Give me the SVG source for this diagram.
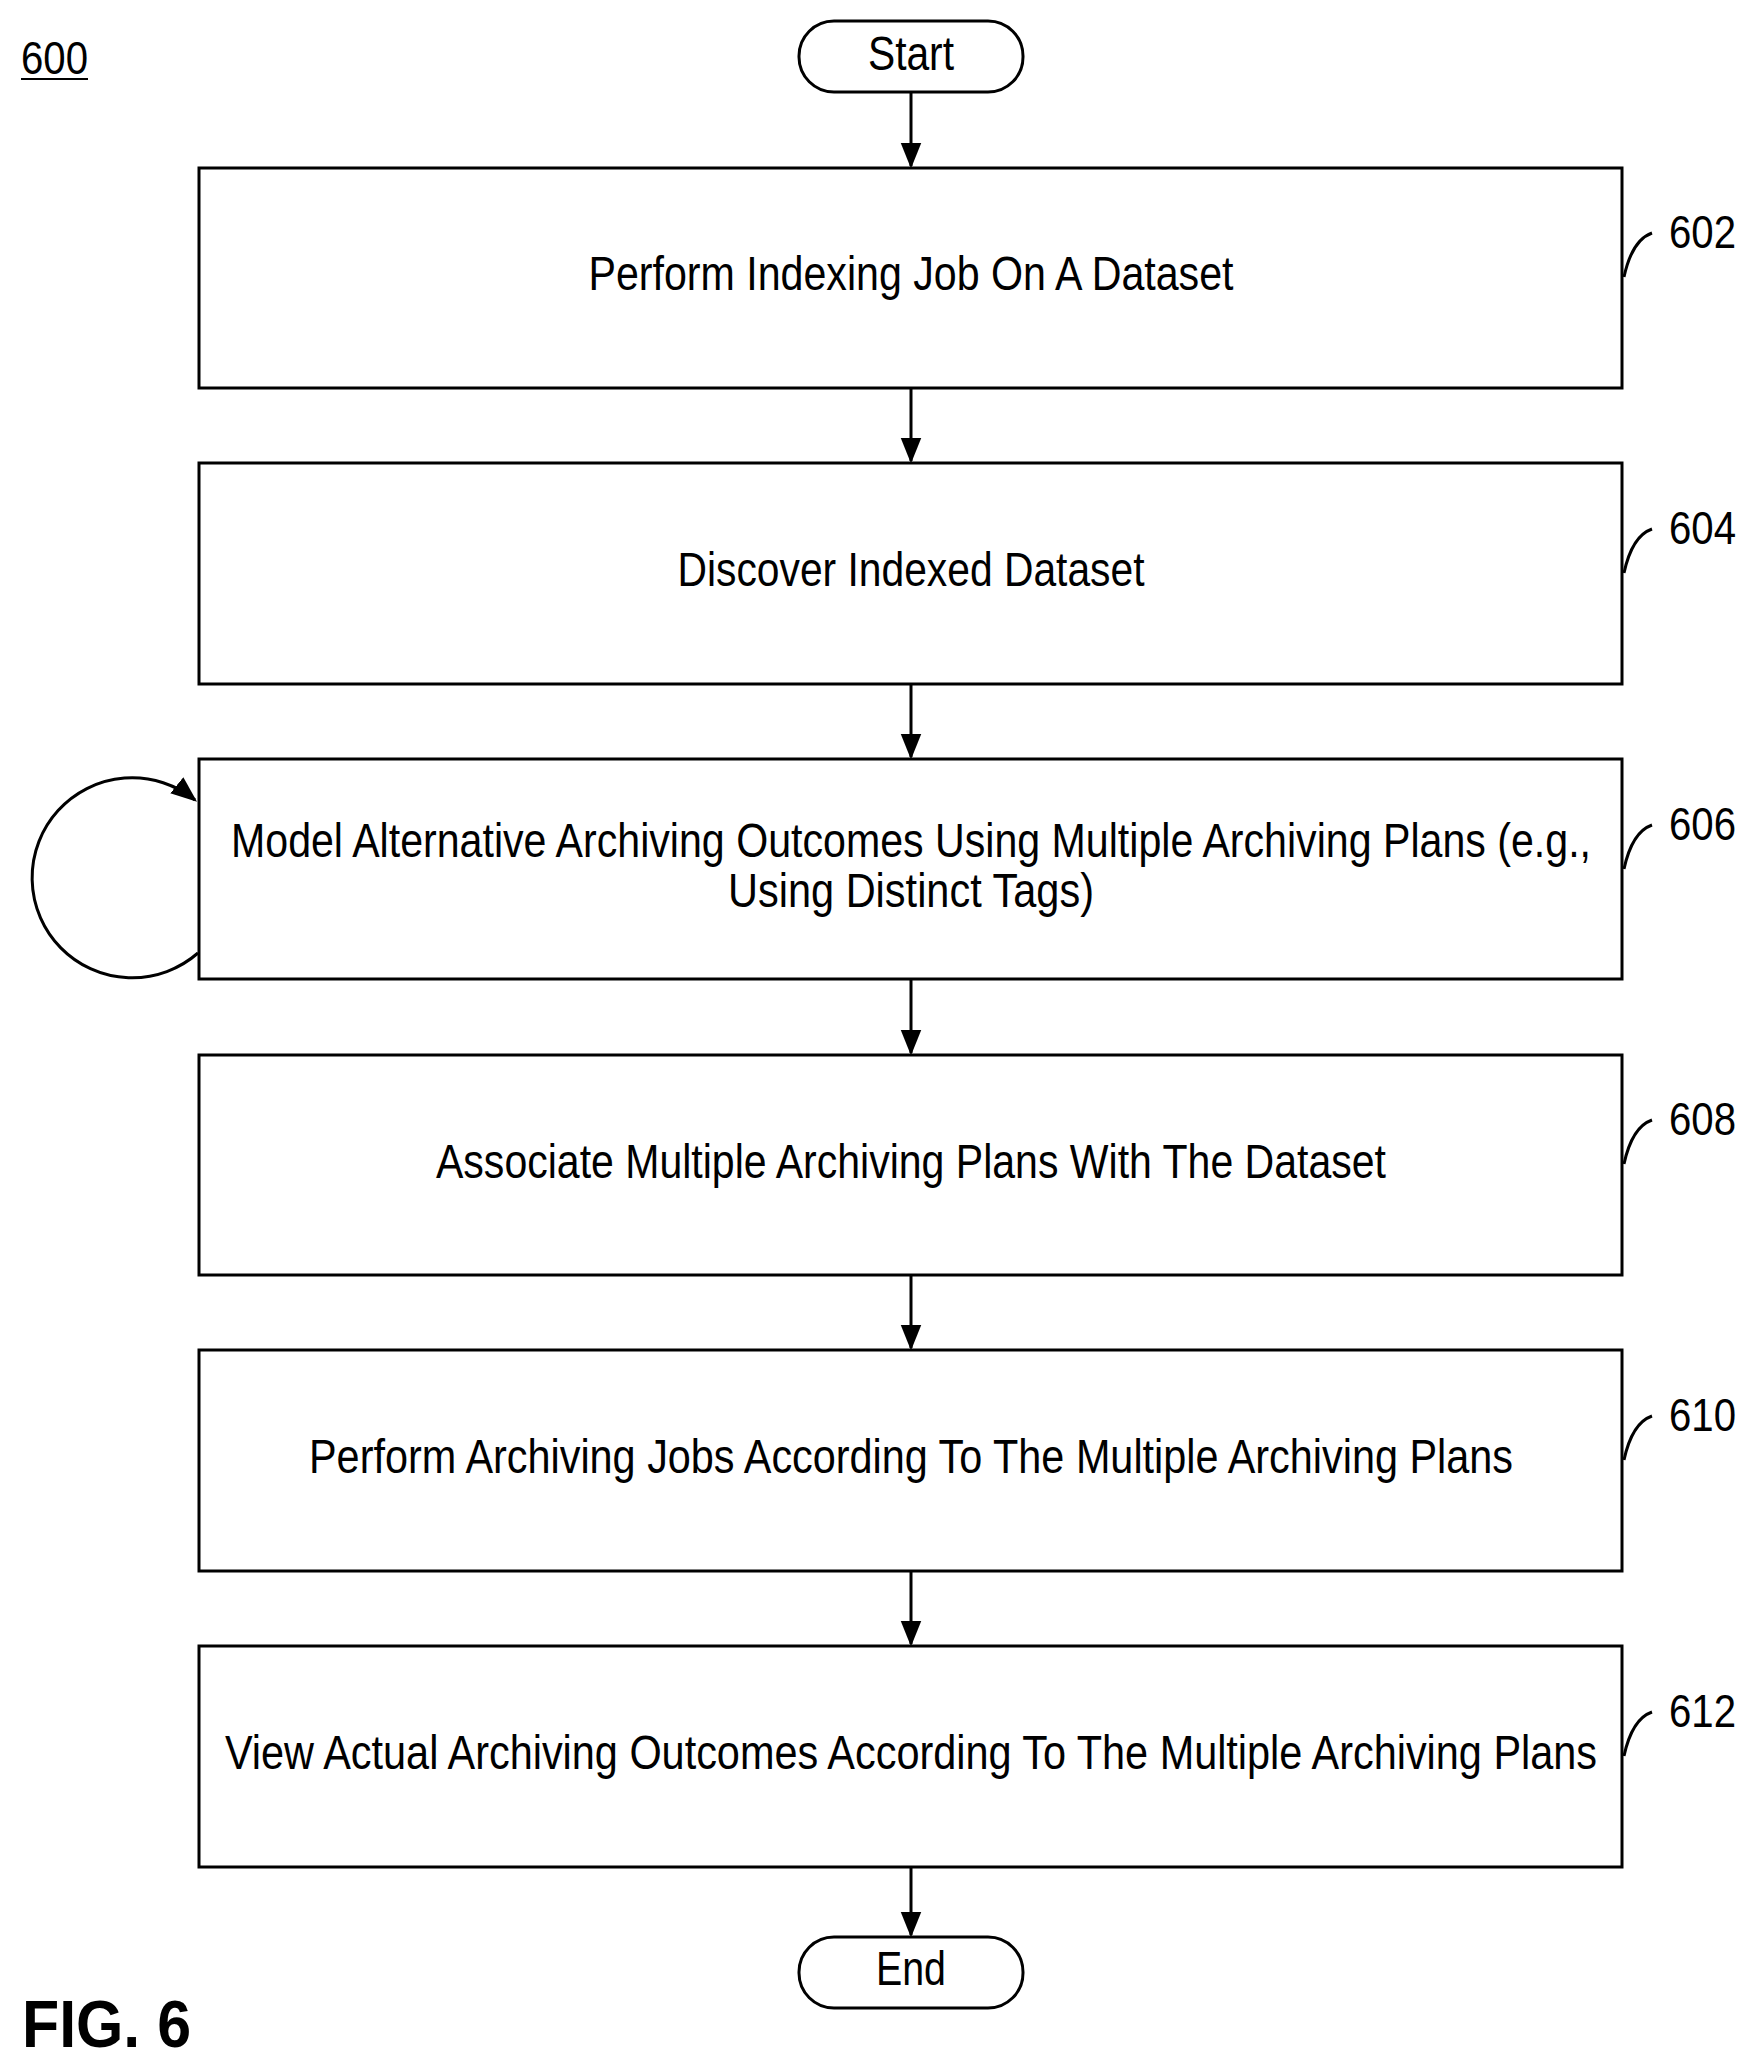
<svg xmlns="http://www.w3.org/2000/svg" width="1757" height="2072" viewBox="0 0 1757 2072">
<style>
.b{fill:#fff;stroke:#000;stroke-width:3}
.t{font-family:"Liberation Sans",Arial,sans-serif;font-size:48px;fill:#000;text-anchor:middle}
.n{font-family:"Liberation Sans",Arial,sans-serif;font-size:46px;fill:#000}
.c{fill:none;stroke:#000;stroke-width:3}
</style>
<defs>
<marker id="ah" viewBox="0 0 10 10" refX="9" refY="5" markerWidth="26" markerHeight="26" orient="auto" markerUnits="userSpaceOnUse"><path d="M0,1 L10,5 L0,9 z"/></marker></defs>
<rect width="1757" height="2072" fill="#fff"/>
<text class="n" x="21" y="74" textLength="67" lengthAdjust="spacingAndGlyphs">600</text>
<line x1="21" y1="79" x2="88" y2="79" stroke="#000" stroke-width="2"/>
<text x="22" y="2047" font-family="Liberation Sans,Arial,sans-serif" font-weight="bold" font-size="66" textLength="169" lengthAdjust="spacingAndGlyphs">FIG. 6</text>
<g id="start"><rect class="b" x="799" y="21" width="224" height="71" rx="35"/><text class="t" x="911" y="70" textLength="86" lengthAdjust="spacingAndGlyphs">Start</text></g>
<g id="n602"><rect class="b" x="199" y="168" width="1423" height="220"/><text class="t" x="911" y="290" textLength="645" lengthAdjust="spacingAndGlyphs">Perform Indexing Job On A Dataset</text><text class="n" x="1669" y="248" textLength="67" lengthAdjust="spacingAndGlyphs">602</text><path class="c" d="M1624,277 Q1632,240 1652,233"/></g>
<g id="n604"><rect class="b" x="199" y="463" width="1423" height="221"/><text class="t" x="911" y="586" textLength="467" lengthAdjust="spacingAndGlyphs">Discover Indexed Dataset</text><text class="n" x="1669" y="544" textLength="67" lengthAdjust="spacingAndGlyphs">604</text><path class="c" d="M1624,573 Q1632,536 1652,529"/></g>
<g id="n606"><rect class="b" x="199" y="759" width="1423" height="220"/><text class="t" x="911" y="857" textLength="1360" lengthAdjust="spacingAndGlyphs">Model Alternative Archiving Outcomes Using Multiple Archiving Plans (e.g.,</text><text class="t" x="911" y="907" textLength="366" lengthAdjust="spacingAndGlyphs">Using Distinct Tags)</text><text class="n" x="1669" y="840" textLength="67" lengthAdjust="spacingAndGlyphs">606</text><path class="c" d="M1624,869 Q1632,832 1652,825"/></g>
<g id="n608"><rect class="b" x="199" y="1055" width="1423" height="220"/><text class="t" x="911" y="1178" textLength="950" lengthAdjust="spacingAndGlyphs">Associate Multiple Archiving Plans With The Dataset</text><text class="n" x="1669" y="1135" textLength="67" lengthAdjust="spacingAndGlyphs">608</text><path class="c" d="M1624,1164 Q1632,1127 1652,1120"/></g>
<g id="n610"><rect class="b" x="199" y="1350" width="1423" height="221"/><text class="t" x="911" y="1473" textLength="1204" lengthAdjust="spacingAndGlyphs">Perform Archiving Jobs According To The Multiple Archiving Plans</text><text class="n" x="1669" y="1431" textLength="67" lengthAdjust="spacingAndGlyphs">610</text><path class="c" d="M1624,1460 Q1632,1423 1652,1416"/></g>
<g id="n612"><rect class="b" x="199" y="1646" width="1423" height="221"/><text class="t" x="911" y="1769" textLength="1372" lengthAdjust="spacingAndGlyphs">View Actual Archiving Outcomes According To The Multiple Archiving Plans</text><text class="n" x="1669" y="1727" textLength="67" lengthAdjust="spacingAndGlyphs">612</text><path class="c" d="M1624,1756 Q1632,1719 1652,1712"/></g>
<g id="end"><rect class="b" x="799" y="1937" width="224" height="71" rx="35"/><text class="t" x="911" y="1985" textLength="70" lengthAdjust="spacingAndGlyphs">End</text></g>
<g id="connectors" stroke="#000" stroke-width="3" fill="none">
<line x1="911" y1="92" x2="911" y2="166" marker-end="url(#ah)"/>
<line x1="911" y1="388" x2="911" y2="461" marker-end="url(#ah)"/>
<line x1="911" y1="684" x2="911" y2="757" marker-end="url(#ah)"/>
<line x1="911" y1="979" x2="911" y2="1053" marker-end="url(#ah)"/>
<line x1="911" y1="1275" x2="911" y2="1348" marker-end="url(#ah)"/>
<line x1="911" y1="1571" x2="911" y2="1644" marker-end="url(#ah)"/>
<line x1="911" y1="1867" x2="911" y2="1935" marker-end="url(#ah)"/>
<path d="M198,953 A100,100 0 1 1 195,800" marker-end="url(#ah)"/>
</g>
</svg>
